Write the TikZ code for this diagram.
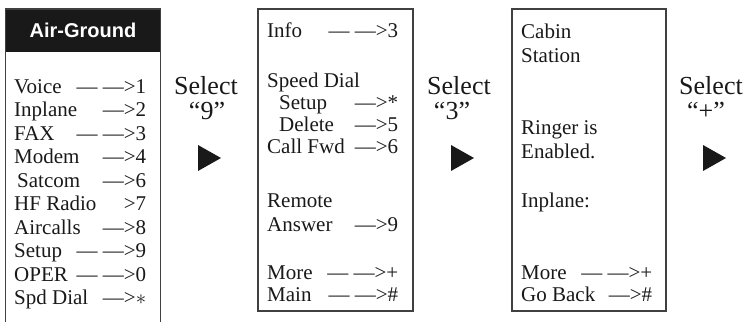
\documentclass[tikz,border=0pt]{standalone}
\usepackage{fontspec}
\setmainfont{Liberation Serif}
\newfontfamily\headfont{Liberation Sans}
\usepackage{tikz}
\pgfdeclarelayer{background}
\pgfdeclarelayer{foreground}
\pgfsetlayers{background,main,foreground}

\tikzset{
  menubox/.style={draw=black!75, line width=1.2pt},
  menuline/.style={anchor=base west, inner sep=0pt, text=black!90,
    font=\fontsize{21}{25}\selectfont},
  selectlabel/.style={anchor=base, inner sep=0pt, text=black!90,
    font=\fontsize{26}{30}\selectfont},
  headtext/.style={inner sep=0pt, text=white, font=\headfont\bfseries\fontsize{20}{24}\selectfont},
  pointer/.style={fill=black!90}
}

\begin{document}
\begin{tikzpicture}[x=1pt, y=-1pt]
\useasboundingbox (0,0) rectangle (746,322);

\begin{pgfonlayer}{background}
\fill[black!90] (5.5,9) rectangle (160.5,52);
\end{pgfonlayer}

% Air-Ground menu
\draw[menubox] (5.5,322) -- (5.5,9) -- (160.5,9) -- (160.5,322);
\node[headtext] (head) at (83,30) {Air-Ground};
\node[menuline] (voice) at (14,93) {\makebox[132pt][l]{Voice\hfill— —>1}};
\node[menuline] (inplane) at (14,116.5) {\makebox[132pt][l]{Inplane\hfill—>2}};
\node[menuline] (fax) at (14,140) {\makebox[132pt][l]{FAX\hfill— —>3}};
\node[menuline] (modem) at (14,163.5) {\makebox[132pt][l]{Modem\hfill—>4}};
\node[menuline] (satcom) at (17,187) {\makebox[129pt][l]{Satcom\hfill—>6}};
\node[menuline] (hfradio) at (14,210.5) {\makebox[132pt][l]{HF Radio\hfill>7}};
\node[menuline] (aircalls) at (14,234) {\makebox[132pt][l]{Aircalls\hfill—>8}};
\node[menuline] (setup) at (14,257.5) {\makebox[132pt][l]{Setup\hfill— —>9}};
\node[menuline] (oper) at (14,281) {\makebox[132pt][l]{OPER\hfill— —>0}};
\node[menuline] (spddial) at (14,304.5) {\makebox[132pt][l]{Spd Dial\hfill—>$\ast$}};

\node[selectlabel] (sel9) at (206,94) {Select};
\node[selectlabel] (key9) at (207,119) {“9”};
\fill[pointer] (198,145) -- (221,158) -- (198,171) -- cycle;

% setup menu
\draw[menubox] (258,9) rectangle (413,311);
\node[menuline] (info) at (267,37) {\makebox[131pt][l]{Info\hfill— —>3}};
\node[menuline] (speeddial) at (267,87) {Speed Dial};
\node[menuline] (sdsetup) at (279,109) {\makebox[119pt][l]{Setup\hfill—>*}};
\node[menuline] (sddelete) at (279,131) {\makebox[119pt][l]{Delete\hfill—>5}};
\node[menuline] (callfwd) at (267,153) {\makebox[131pt][l]{Call Fwd\hfill—>6}};
\node[menuline] (remote) at (267,207) {Remote};
\node[menuline] (answer) at (267,231) {\makebox[131pt][l]{Answer\hfill—>9}};
\node[menuline] (more) at (267,279) {\makebox[131pt][l]{More\hfill— —>+}};
\node[menuline] (main) at (267,301) {\makebox[131pt][l]{Main\hfill— —>\#}};

\node[selectlabel] (sel3) at (459,94) {Select};
\node[selectlabel] (key3) at (452,119) {“3”};
\fill[pointer] (451,145) -- (474,158) -- (451,171) -- cycle;

% cabin station screen
\draw[menubox] (512,9) rectangle (666,311);
\node[menuline] (cabin) at (521,38) {Cabin};
\node[menuline] (station) at (521,62) {Station};
\node[menuline] (ringer) at (521,134) {Ringer is};
\node[menuline] (enabled) at (521,158) {Enabled.};
\node[menuline] (cabinplane) at (521,207) {Inplane:};
\node[menuline] (cabmore) at (521,279) {\makebox[131pt][l]{More\hfill— —>+}};
\node[menuline] (goback) at (521,301) {\makebox[131pt][l]{Go Back\hfill—>\#}};

\node[selectlabel] (selplus) at (711,94) {Select};
\node[selectlabel] (keyplus) at (706,119) {“+”};
\fill[pointer] (703,145) -- (726,158) -- (703,171) -- cycle;

\end{tikzpicture}
\end{document}
